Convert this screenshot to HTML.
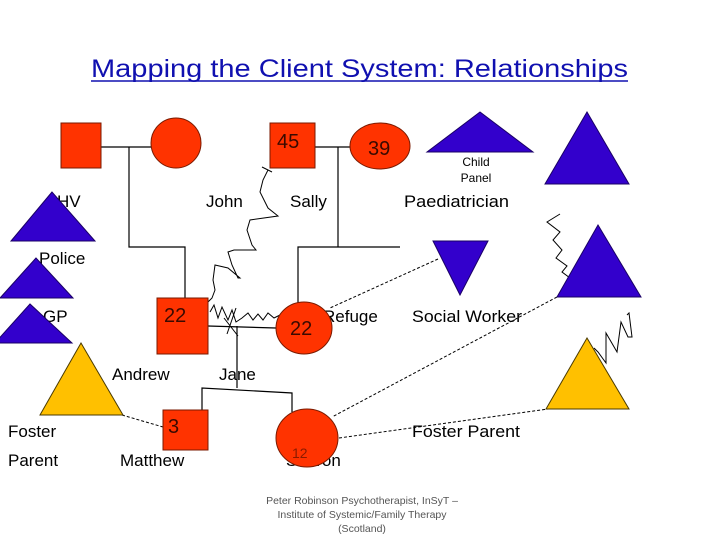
<!DOCTYPE html>
<html><head><meta charset="utf-8"><style>
html,body{margin:0;padding:0;background:#fff;}
svg{display:block;}
text{font-family:"Liberation Sans",sans-serif;}
</style></head><body>
<svg width="720" height="540" viewBox="0 0 720 540" xmlns="http://www.w3.org/2000/svg">
<text x="91" y="77" font-size="25" fill="#1010b0" textLength="537" lengthAdjust="spacingAndGlyphs">Mapping the Client System: Relationships</text>
<line x1="91" y1="81" x2="628" y2="81" stroke="#1010b0" stroke-width="1.5"/>

<g font-size="17" fill="#000">
<text x="57" y="207">HV</text>
<text x="206" y="207">John</text>
<text x="290" y="207">Sally</text>
<text x="404" y="207" textLength="105" lengthAdjust="spacingAndGlyphs">Paediatrician</text>
<text x="39" y="264">Police</text>
<text x="43" y="322">GP</text>
<text x="323" y="322">Refuge</text>
<text x="412" y="322" textLength="110" lengthAdjust="spacingAndGlyphs">Social Worker</text>
<text x="112" y="380">Andrew</text>
<text x="219" y="380">Jane</text>
<text x="8" y="437">Foster</text>
<text x="8" y="466">Parent</text>
<text x="120" y="466">Matthew</text>
<text x="286" y="466">Sharon</text>
<text x="412" y="437" textLength="108" lengthAdjust="spacingAndGlyphs">Foster Parent</text>
</g>
<text x="476" y="166" font-size="12" text-anchor="middle">Child</text>
<text x="476" y="182" font-size="12" text-anchor="middle">Panel</text>

<g stroke="#000" stroke-width="1.2" fill="none">
<polyline points="101,147 152,147"/>
<polyline points="129,147 129,247 185,247 185,298"/>
<polyline points="315,147 352,147"/>
<polyline points="338,147 338,247"/>
<polyline points="298,305 298,247 400,247"/>
<polyline points="208,326 276,328"/>
<polyline points="237,326 237,388"/>
<polyline points="202,410 202,388 292,393 292,412"/>
</g>
<g stroke="#000" stroke-width="1" fill="none">
<polyline points="272,172 262,167 268,170 263,180 260,192 268,208 278,216 250,220 247,230 252,245 256,250 234,250 228,252 232,265 238,278 240,278 228,268 215,265 213,280 215,290 212,298 208,302"/>
<polyline points="210,312 214,305 218,318 222,307 228,320 232,310 236,322 242,318 248,313 253,320 258,314 263,320 268,313 274,318 280,315"/>
<line x1="227" y1="334" x2="236" y2="308"/>
<line x1="224" y1="318" x2="238" y2="336"/>
<polyline points="560,214 547,222 560,232 553,240 562,250 556,258 567,266 562,272 570,278"/>
<polyline points="594,348 598,352 606,363 606,333 617,352 621,322 628,337 632,337 629,313 627,315"/>
</g>
<g stroke="#000" stroke-width="1" fill="none" stroke-dasharray="3,2">
<line x1="438" y1="259" x2="330" y2="308"/>
<line x1="557" y1="297" x2="332" y2="417"/>
<line x1="339" y1="438" x2="548" y2="409"/>
<line x1="122" y1="415" x2="163" y2="427"/>
</g>

<g fill="#ff3300" stroke="#7a1a00" stroke-width="1">
<rect x="61" y="123" width="40" height="45"/>
<circle cx="176" cy="143" r="25"/>
<rect x="270" y="123" width="45" height="45"/>
<ellipse cx="380" cy="146" rx="30" ry="23"/>
<rect x="157" y="298" width="51" height="56"/>
<ellipse cx="304" cy="328" rx="28" ry="26"/>
<rect x="163" y="410" width="45" height="40"/>
<ellipse cx="307" cy="438" rx="31" ry="29"/>
</g>
<g fill="#3300cc" stroke="#1a0066" stroke-width="1">
<polygon points="52,192 11,241 95,241"/>
<polygon points="36,258 0,298 73,298"/>
<polygon points="30,304 -5,343 72,343"/>
<polygon points="480,112 427,152 533,152"/>
<polygon points="587,112 545,184 629,184"/>
<polygon points="598,225 557,297 641,297"/>
<polygon points="433,241 488,241 460,295"/>
</g>
<g fill="#ffc000" stroke="#4a3a00" stroke-width="1">
<polygon points="81,343 40,415 123,415"/>
<polygon points="587,338 546,409 629,409"/>
</g>

<g fill="#3a0a00" font-size="20">
<text x="277" y="148">45</text>
<text x="368" y="155">39</text>
<text x="164" y="322">22</text>
<text x="290" y="335">22</text>
<text x="168" y="433">3</text>
</g>
<text x="292" y="458" font-size="14" fill="#8a1a00">12</text>

<g font-size="10.5" fill="#555" text-anchor="middle">
<text x="362" y="504">Peter  Robinson Psychotherapist, InSyT –</text>
<text x="362" y="518">Institute of Systemic/Family Therapy</text>
<text x="362" y="532">(Scotland)</text>
</g>
</svg>
</body></html>
